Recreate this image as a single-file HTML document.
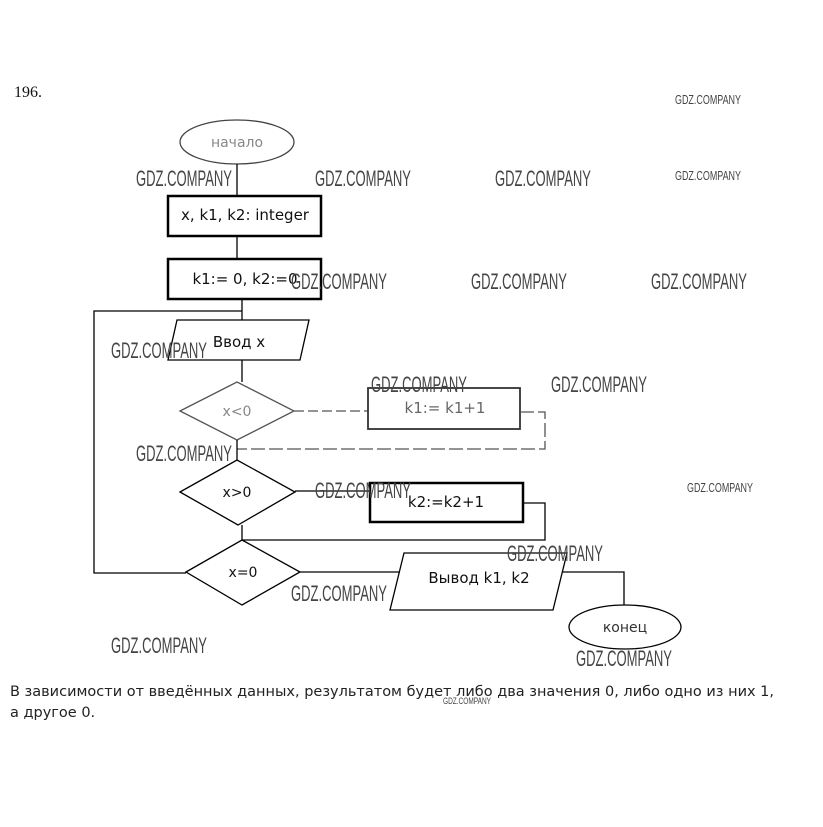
<!DOCTYPE html>
<html><head><meta charset="utf-8"><style>
html,body{margin:0;padding:0;background:#fff;}
svg{display:block;}
.w{font-family:"Liberation Sans Narrow","Liberation Sans",sans-serif;fill:#444;}
.t{font-family:"DejaVu Sans","Liberation Sans",sans-serif;fill:#111;font-size:15px;}
</style></head><body>
<svg width="823" height="827" viewBox="0 0 823 827" xmlns="http://www.w3.org/2000/svg">
<rect width="823" height="827" fill="#fff"/>
<text x="14" y="97" font-family="Liberation Serif,serif" font-size="16" fill="#111">196.</text>
<g fill="none" stroke="#000" stroke-width="1.3">
<ellipse cx="237" cy="142" rx="57" ry="22" stroke="#444"/>
<line x1="237" y1="164" x2="237" y2="196"/>
<rect x="168" y="196" width="153" height="40" stroke-width="2.5"/>
<line x1="237" y1="236" x2="237" y2="259"/>
<rect x="168" y="259" width="153" height="40" stroke-width="2.5"/>
<line x1="242" y1="299" x2="242" y2="320"/>
<polyline points="242,311 94,311 94,573 186,573"/>
<polygon points="177,320 309,320 300,360 168,360"/>
<line x1="242" y1="360" x2="242" y2="382"/>
<polygon points="180,411 237,382 294,411 237,440" stroke="#555"/>
<line x1="294" y1="411" x2="368" y2="411" stroke="#555" stroke-dasharray="10,4"/>
<rect x="368" y="388" width="152" height="41" stroke="#333" stroke-width="1.8"/>
<polyline points="520,412 545,412 545,449 237,449" stroke="#555" stroke-dasharray="14,4"/>
<line x1="237" y1="440" x2="237" y2="460"/>
<polygon points="180,492 237,460 295,492 238,525"/>
<line x1="295" y1="491" x2="370" y2="491"/>
<rect x="370" y="483" width="153" height="39" stroke-width="2.5"/>
<polyline points="523,503 545,503 545,540 242,540"/>
<line x1="242" y1="525" x2="242" y2="540"/>
<polygon points="186,572 242,540 300,572 242,605"/>
<line x1="300" y1="572" x2="400" y2="572"/>
<polygon points="404,553 567,553 553,610 390,610"/>
<polyline points="563,572 624,572 624,605"/>
<ellipse cx="625" cy="627" rx="56" ry="22"/>
</g>
<g class="t" text-anchor="middle">
<text x="237" y="147" fill="#888" font-size="14">начало</text>
<text x="245" y="220">x, k1, k2: integer</text>
<text x="245" y="284">k1:= 0, k2:=0</text>
<text x="239" y="347">Ввод x</text>
<text x="237" y="416" fill="#888" font-size="14">x&lt;0</text>
<text x="445" y="413" fill="#666">k1:= k1+1</text>
<text x="237" y="497" font-size="14">x&gt;0</text>
<text x="446" y="507">k2:=k2+1</text>
<text x="243" y="577" font-size="14">x=0</text>
<text x="479" y="583">Вывод k1, k2</text>
<text x="625" y="632" font-size="14" fill="#333">конец</text>
</g>
<g class="w" font-size="22">
<text x="136" y="186" textLength="96" lengthAdjust="spacingAndGlyphs">GDZ.COMPANY</text>
<text x="315" y="186" textLength="96" lengthAdjust="spacingAndGlyphs">GDZ.COMPANY</text>
<text x="495" y="186" textLength="96" lengthAdjust="spacingAndGlyphs">GDZ.COMPANY</text>
<text x="291" y="289" textLength="96" lengthAdjust="spacingAndGlyphs">GDZ.COMPANY</text>
<text x="471" y="289" textLength="96" lengthAdjust="spacingAndGlyphs">GDZ.COMPANY</text>
<text x="651" y="289" textLength="96" lengthAdjust="spacingAndGlyphs">GDZ.COMPANY</text>
<text x="111" y="358" textLength="96" lengthAdjust="spacingAndGlyphs">GDZ.COMPANY</text>
<text x="371" y="392" textLength="96" lengthAdjust="spacingAndGlyphs">GDZ.COMPANY</text>
<text x="551" y="392" textLength="96" lengthAdjust="spacingAndGlyphs">GDZ.COMPANY</text>
<text x="136" y="461" textLength="96" lengthAdjust="spacingAndGlyphs">GDZ.COMPANY</text>
<text x="315" y="498" textLength="96" lengthAdjust="spacingAndGlyphs">GDZ.COMPANY</text>
<text x="507" y="561" textLength="96" lengthAdjust="spacingAndGlyphs">GDZ.COMPANY</text>
<text x="291" y="601" textLength="96" lengthAdjust="spacingAndGlyphs">GDZ.COMPANY</text>
<text x="111" y="653" textLength="96" lengthAdjust="spacingAndGlyphs">GDZ.COMPANY</text>
<text x="576" y="666" textLength="96" lengthAdjust="spacingAndGlyphs">GDZ.COMPANY</text>
</g>
<g class="w" font-size="13">
<text x="675" y="104" textLength="66" lengthAdjust="spacingAndGlyphs">GDZ.COMPANY</text>
<text x="675" y="180" textLength="66" lengthAdjust="spacingAndGlyphs">GDZ.COMPANY</text>
<text x="687" y="492" textLength="66" lengthAdjust="spacingAndGlyphs">GDZ.COMPANY</text>
<text x="443" y="704" font-size="9" textLength="48" lengthAdjust="spacingAndGlyphs">GDZ.COMPANY</text>
</g>
<g font-family="DejaVu Sans,Liberation Sans,sans-serif" font-size="14.5" fill="#222">
<text x="10" y="696" textLength="764" lengthAdjust="spacingAndGlyphs">В зависимости от введённых данных, результатом будет либо два значения 0, либо одно из них 1,</text>
<text x="10" y="717">а другое 0.</text>
</g>
</svg>
</body></html>
